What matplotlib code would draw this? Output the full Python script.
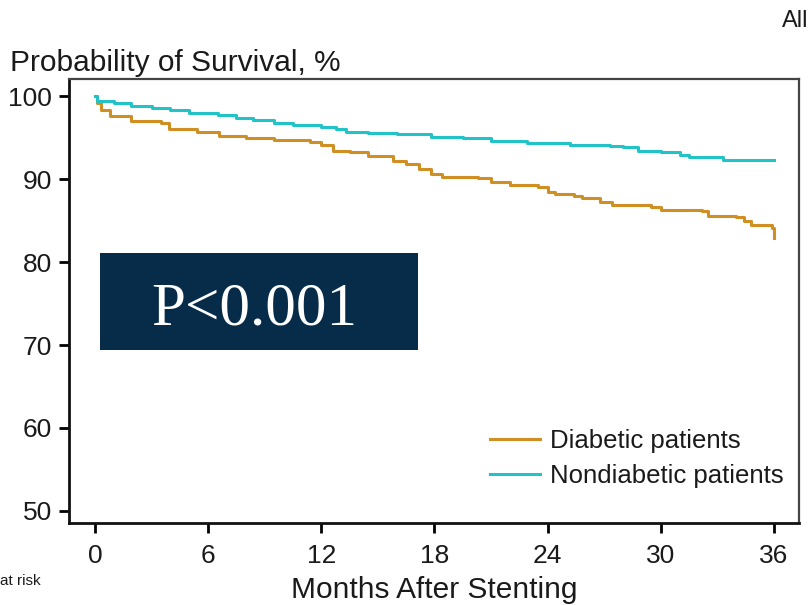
import matplotlib
matplotlib.use("Agg")
import matplotlib.pyplot as plt
from matplotlib.patches import Rectangle

# data (months, survival %)
diab_months = [0, 0.1, 0.3, 0.8, 1.9, 3.5, 3.9, 5.4, 6.6, 8.0, 9.5, 11.4, 12.0,
               12.6, 13.5, 14.5, 15.8, 16.5, 17.2, 17.8, 18.4, 20.3, 21.0, 22.0,
               23.5, 24.0, 24.4, 25.4, 25.8, 26.8, 27.4, 29.5, 30.0, 32.2, 32.5,
               34.0, 34.4, 34.8, 35.9, 36.0]
diab_surv = [100, 99.2, 98.3, 97.6, 97.0, 96.8, 96.0, 95.7, 95.2, 94.9, 94.7, 94.5,
             94.1, 93.4, 93.2, 92.8, 92.2, 91.8, 91.2, 90.6, 90.2, 90.1, 89.6, 89.3,
             89.0, 88.4, 88.2, 88.0, 87.7, 87.2, 86.9, 86.6, 86.3, 86.2, 85.5,
             85.4, 84.9, 84.4, 84.1, 82.9]

nondiab_months = [0, 0.1, 1.0, 1.9, 3.0, 4.0, 5.0, 6.5, 7.5, 8.4, 9.5, 10.5, 12.0,
                  12.8, 13.3, 14.5, 16.0, 17.8, 19.5, 21.0, 22.9, 25.2, 27.3, 28.0,
                  28.8, 30.0, 31.0, 31.5, 33.3, 36.0]
nondiab_surv = [100, 99.4, 99.2, 98.8, 98.6, 98.3, 98.0, 97.7, 97.4, 97.1, 96.7, 96.5,
                96.3, 96.0, 95.7, 95.6, 95.4, 95.1, 94.9, 94.6, 94.3, 94.1, 94.0, 93.8,
                93.4, 93.2, 92.9, 92.6, 92.3, 92.3]

xticks = [0, 6, 12, 18, 24, 30, 36]
yticks = [50, 60, 70, 80, 90, 100]

diab_col = "#d08f22"
nondiab_col = "#22c3c8"
box_col = "#062c4a"

plt.rcParams["font.family"] = ["Liberation Sans", "DejaVu Sans"]

fig = plt.figure(figsize=(8.11, 6.05), dpi=100)
ax = fig.add_axes([0.0851, 0.1355, 0.900, 0.7339])

ax.plot(diab_months, diab_surv, drawstyle="steps-post", color=diab_col, lw=2.2,
        label="Diabetic patients")
ax.plot(nondiab_months, nondiab_surv, drawstyle="steps-post", color=nondiab_col,
        lw=2.2, label="Nondiabetic patients")

ax.set_xlim(-1.38, 37.33)
ax.set_ylim(48.55, 102.05)
ax.set_xticks(xticks)
ax.set_yticks(yticks)
ax.tick_params(direction="out", length=7, width=2, labelsize=19,
               labelcolor="#1a1a1a", pad=5)
ax.tick_params(axis="x", pad=8)
for side in ["left", "bottom"]:
    ax.spines[side].set_linewidth(2)
    ax.spines[side].set_color("#111111")
for side in ["top", "right"]:
    ax.spines[side].set_linewidth(1.6)
    ax.spines[side].set_color("#444444")

ax.set_xlabel("Months After Stenting", fontsize=21.5, color="#1a1a1a", labelpad=6)

leg = ax.legend(loc="lower right", bbox_to_anchor=(0.979, 0.078), frameon=False,
                fontsize=18.5, handlelength=1.95, handletextpad=0.4,
                labelspacing=0.45, borderpad=0, borderaxespad=0)
for t in leg.get_texts():
    t.set_color("#1a1a1a")

# P value box
ax.add_patch(Rectangle((0.0425, 0.390), 0.4355, 0.218, transform=ax.transAxes,
                       facecolor=box_col, edgecolor="none", zorder=5))
ax.text(0.254, 0.446, "P<0.001", transform=ax.transAxes, ha="center",
        va="baseline", fontsize=44, color="white", family="Liberation Serif",
        zorder=6)

fig.text(0.012, 0.896, "Probability of Survival, %", fontsize=21.5,
         color="#1a1a1a", va="center", ha="left")
fig.text(0.997, 0.966, "All", fontsize=17, color="#1a1a1a", va="center", ha="right")
fig.text(0.0, 0.040, "at risk", fontsize=11, color="#1a1a1a", va="center", ha="left")

fig.savefig("out.png", dpi=100)
